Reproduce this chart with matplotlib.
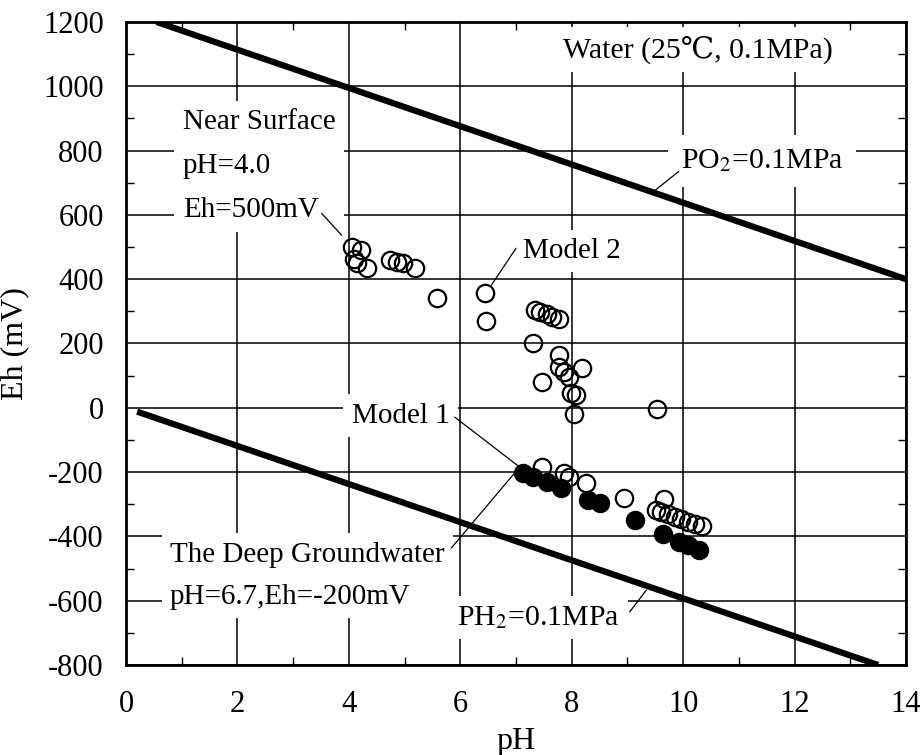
import matplotlib
matplotlib.use('Agg')
import matplotlib.pyplot as plt
from matplotlib.ticker import MultipleLocator

plt.rcParams['font.family'] = ['Liberation Serif', 'DejaVu Serif']
plt.rcParams['mathtext.fontset'] = 'stix'
plt.rcParams['axes.unicode_minus'] = False

# water stability limits (end points of the two thick lines)
o2_ph = [0.55, 14.0]
o2_eh = [1200, 400]
h2_ph = [0.2, 13.5]
h2_eh = [-12, -800]

# open circles
open_ph = [4.05, 4.22, 4.10, 4.14, 4.32, 4.74, 4.86, 4.97, 5.18, 5.58,
           6.45, 6.47, 7.34, 7.43, 7.55, 7.65, 7.77, 7.31, 7.77, 7.78,
           7.87, 8.19, 7.46, 7.96, 7.99, 8.08, 8.05, 9.53,
           7.46, 7.87, 7.96, 8.25, 8.93, 9.52, 9.65, 9.61, 9.73, 9.85,
           9.97, 10.09, 10.21, 10.33]
open_eh = [500, 490, 462, 449, 434, 460, 455, 449, 434, 340,
           358, 270, 304, 299, 291, 283, 275, 203, 164, 128,
           112, 123, 81, 97, 45, 40, -19, -5,
           -183, -204, -214, -235, -281, -318, -284, -323, -330, -339,
           -346, -354, -362, -368]

# filled circles
fill_ph = [7.13, 7.31, 7.55, 7.81, 8.29, 8.50, 9.13, 9.64, 9.92, 10.09, 10.28]
fill_eh = [-202, -214, -230, -250, -287, -297, -349, -393, -418, -427, -442]

fig = plt.figure(figsize=(9.21, 7.55), dpi=100)
ax = fig.add_axes([0.1368, 0.1192, 0.8469, 0.8517])

ax.set_xlim(0, 14)
ax.set_ylim(-800, 1200)
ax.xaxis.set_major_locator(MultipleLocator(2))
ax.xaxis.set_minor_locator(MultipleLocator(1))
ax.yaxis.set_major_locator(MultipleLocator(200))
ax.yaxis.set_minor_locator(MultipleLocator(100))
ax.grid(True, which='major', color='black', lw=1.1)
ax.tick_params(which='both', direction='in', top=True, right=True,
               labelsize=22, colors='black')
ax.tick_params(which='major', length=0)
ax.tick_params(which='minor', length=6, width=1)
ax.tick_params(axis='x', pad=18)
ax.tick_params(axis='y', pad=16)
for s in ax.spines.values():
    s.set_linewidth(2)

ax.set_xlabel('pH', fontsize=23, labelpad=6)
ax.set_ylabel('Eh (mV)', fontsize=23, labelpad=10)

ax.plot(o2_ph, o2_eh, color='black', lw=4.5, solid_capstyle='butt', zorder=2)
ax.plot(h2_ph, h2_eh, color='black', lw=4.5, solid_capstyle='butt', zorder=2)

ax.plot(fill_ph, fill_eh, 'o', ms=12.5, mfc='black', mec='black', mew=1.5,
        zorder=4, clip_on=False)
ax.plot(open_ph, open_eh, 'o', ms=12.5, mfc='none', mec='black', mew=1.6,
        zorder=5, clip_on=False)

box = dict(facecolor='white', edgecolor='none', pad=6)
fs = 21

ax.text(7.84, 1090, 'Water (25℃, 0.1MPa)', fontsize=21.5, ha='left',
        va='baseline', bbox=box, zorder=3)
# multi-line texts: baseline refers to the last line
ax.text(1.02, 593, 'Near Surface\npH=4.0\nEh=500mV', fontsize=fs,
        ha='left', va='baseline', linespacing=1.9, bbox=box, zorder=3)
ax.text(9.96, 745, 'PO$_2$=0.1MPa', fontsize=21.5, ha='left',
        va='baseline', bbox=dict(facecolor='white', edgecolor='none', pad=9),
        zorder=3)
ax.text(7.12, 466, 'Model 2', fontsize=fs, ha='left', va='baseline',
        bbox=box, zorder=3)
ax.text(4.05, -47, 'Model 1', fontsize=fs, ha='left', va='baseline',
        bbox=box, zorder=3)
ax.text(0.79, -610, 'The Deep Groundwater\npH=6.7,Eh=-200mV', fontsize=fs,
        ha='left', va='baseline', linespacing=1.8, bbox=box, zorder=3)
ax.text(5.94, -676, 'PH$_2$=0.1MPa', fontsize=21.5, ha='left',
        va='baseline', bbox=box, zorder=3)

lead = dict(arrowstyle='-', color='black', lw=0.9, shrinkA=0, shrinkB=0)
ax.annotate('', xy=(3.87, 537), xytext=(3.51, 605), arrowprops=lead)
ax.annotate('', xy=(6.56, 382), xytext=(7.0, 496), arrowprops=lead)
ax.annotate('', xy=(7.07, -185), xytext=(5.9, -29), arrowprops=lead)
ax.annotate('', xy=(6.96, -206), xytext=(5.84, -436), arrowprops=lead)
ax.annotate('', xy=(9.45, 670), xytext=(9.92, 735), arrowprops=lead)
ax.annotate('', xy=(9.34, -567), xytext=(9.04, -635), arrowprops=lead)

fig.savefig('out.png', dpi=100)
